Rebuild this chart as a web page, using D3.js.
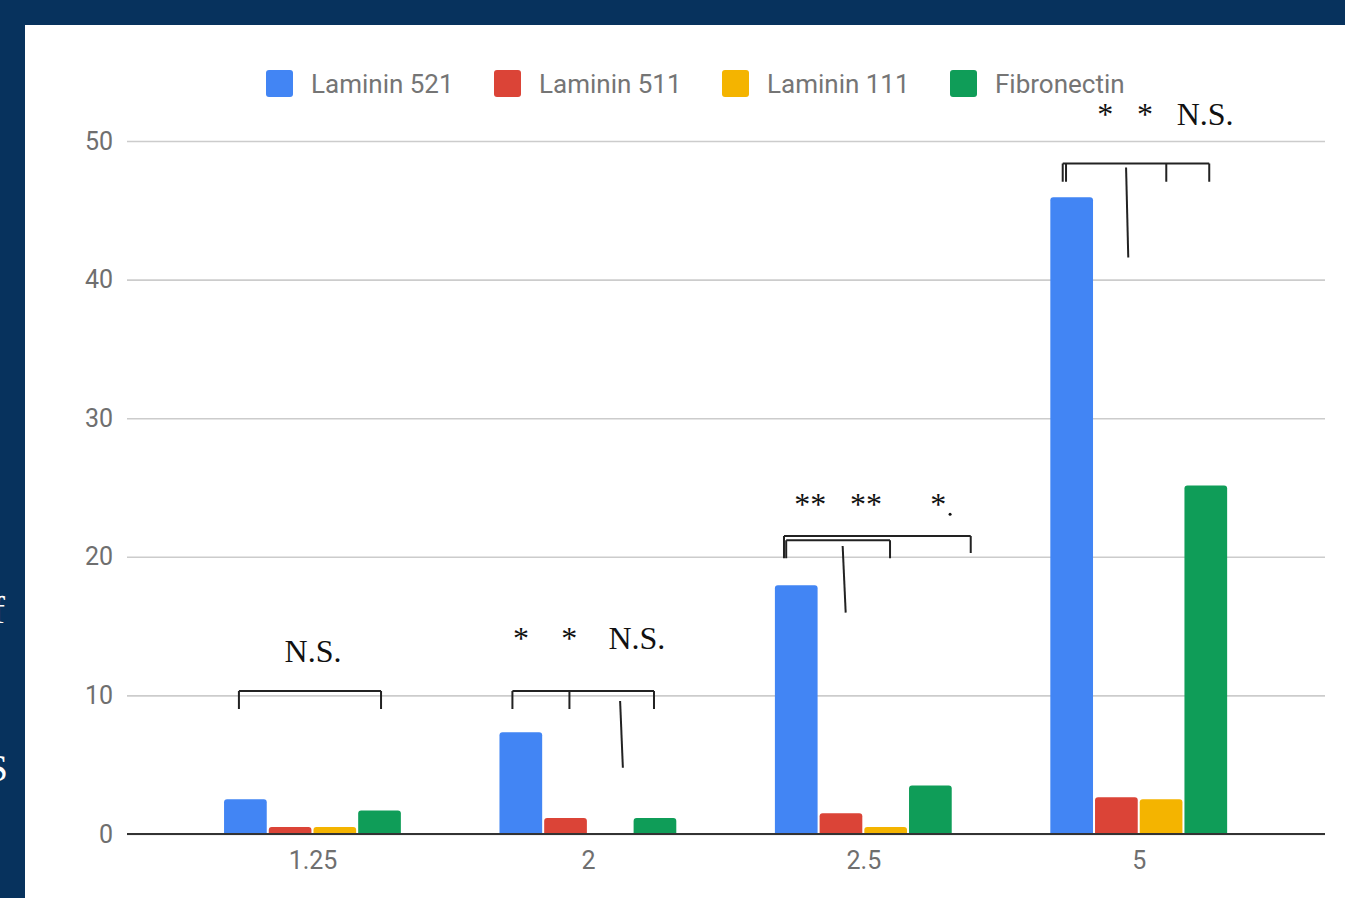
<!DOCTYPE html>
<html>
<head>
<meta charset="utf-8">
<script src="https://cdn.jsdelivr.net/npm/d3@7"></script>
<style>
  body { margin: 0; background: #07325d; overflow: hidden; }
  svg { display: block; }
</style>
</head>
<body>
<svg id="chart"></svg>
<script>
// data
const categories = ['1.25', '2', '2.5', '5'];
const seriesNames = ['Laminin 521', 'Laminin 511', 'Laminin 111', 'Fibronectin'];
const seriesColors = ['#4285f4', '#db4437', '#f4b400', '#0f9d58'];
const laminin521 = [2.5, 7.35, 17.95, 45.95];
const laminin511 = [0.5, 1.15, 1.5, 2.65];
const laminin111 = [0.5, 0, 0.5, 2.5];
const fibronectin = [1.7, 1.15, 3.5, 25.15];
const yTicks = [0, 10, 20, 30, 40, 50];

// significance annotations, x in group units (0..4), y in data units
const brackets = [
  {top: 10.32, legs: [[0.231, 9.02], [0.747, 9.02]]},
  {top: 10.32, legs: [[1.224, 9.02], [1.431, 9.02], [1.738, 9.02]]},
  {top: 21.5, legs: [[2.210, 19.9], [2.888, 20.27]]},
  {top: 21.2, legs: [[2.218, 19.9], [2.595, 19.9]]},
  {top: 48.38, legs: [[3.222, 47.06], [3.234, 47.06], [3.598, 47.06], [3.754, 47.06]]}
];
const strokes = [
  [1.615, 9.6, 1.625, 4.78],
  [2.423, 20.78, 2.434, 15.97],
  [3.452, 48.09, 3.460, 41.6]
];
const sigLabels = [
  {x: 0.5, y: 12.41, text: 'N.S.'},
  {x: 1.255, y: 13.35, text: '*'},
  {x: 1.43, y: 13.35, text: '*'},
  {x: 1.676, y: 13.35, text: 'N.S.'},
  {x: 2.305, y: 23.0, text: '**'},
  {x: 2.508, y: 23.0, text: '**'},
  {x: 2.77, y: 23.0, text: '*'},
  {x: 3.376, y: 51.15, text: '*'},
  {x: 3.521, y: 51.15, text: '*'},
  {x: 3.739, y: 51.15, text: 'N.S.'}
];

class GroupedBarChart {
  constructor(_config) {
    this.config = {
      parentElement: _config.parentElement,
      containerWidth: _config.containerWidth || 1345,
      containerHeight: _config.containerHeight || 898,
      grid: {left: 127, right: 1325, top: 141, bottom: 834}
    };
    this.initVis();
  }

  initVis() {
    let vis = this;
    vis.svg = d3.select(vis.config.parentElement)
      .attr('width', vis.config.containerWidth)
      .attr('height', vis.config.containerHeight);

    // navy frame + white panel
    vis.svg.append('rect')
      .attr('width', vis.config.containerWidth)
      .attr('height', vis.config.containerHeight)
      .attr('fill', '#07325d');
    vis.svg.append('rect')
      .attr('x', 25).attr('y', 25)
      .attr('width', vis.config.containerWidth - 25)
      .attr('height', vis.config.containerHeight - 25)
      .attr('fill', '#ffffff');

    // cut-off slide text on the left edge
    vis.svg.append('text')
      .attr('x', 8).attr('y', 781)
      .attr('text-anchor', 'end')
      .style('font-family', 'Liberation Serif, serif')
      .style('font-size', '38px')
      .style('fill', '#ffffff')
      .text('S');
    vis.svg.append('text')
      .attr('x', 5).attr('y', 623)
      .attr('text-anchor', 'end')
      .style('font-family', 'Liberation Serif, serif')
      .style('font-size', '38px')
      .style('fill', '#ffffff')
      .text('f');

    vis.yScale = d3.scaleLinear()
      .domain([0, 50])
      .range([vis.config.grid.bottom, vis.config.grid.top]);

    vis.xScale = d3.scaleBand()
      .domain(categories)
      .range([175.3, 1277])
      .padding(0);

    let bw = vis.xScale.bandwidth();
    vis.xInner = d3.scaleBand()
      .domain(seriesNames)
      .range([bw * 0.177, bw * 0.819])
      .paddingInner(0.045);

    vis.xIndex = d3.scaleLinear()
      .domain([0, categories.length])
      .range(vis.xScale.range());

    vis.renderVis();
  }

  renderVis() {
    let vis = this;
    const g = vis.config.grid;

    // gridlines
    const yAxis = d3.axisLeft(vis.yScale)
      .tickValues(yTicks)
      .tickSize(-(g.right - g.left))
      .tickPadding(14);
    const yg = vis.svg.append('g')
      .attr('class', 'y-axis')
      .attr('transform', `translate(${g.left}, 0)`)
      .call(yAxis);
    yg.select('.domain').remove();
    yg.selectAll('line')
      .attr('stroke', '#cccccc')
      .attr('stroke-width', 1.6);
    yg.selectAll('text')
      .style('font-family', 'Roboto')
      .style('font-size', '25px')
      .style('fill', '#6f6f6f');

    // bars
    const seriesValues = [laminin521, laminin511, laminin111, fibronectin];
    const rows = [];
    categories.forEach((c, i) => {
      seriesNames.forEach((s, j) => {
        rows.push({cat: c, series: s, color: seriesColors[j], value: seriesValues[j][i]});
      });
    });

    const r = 3;
    vis.svg.append('g').selectAll('path')
      .data(rows.filter(d => d.value > 0))
      .join('path')
      .attr('fill', d => d.color)
      .attr('d', d => {
        const x0 = vis.xScale(d.cat) + vis.xInner(d.series);
        const x1 = x0 + vis.xInner.bandwidth();
        const y0 = vis.yScale(0);
        const y1 = vis.yScale(d.value);
        const rr = Math.min(r, (y0 - y1) / 2);
        return `M${x0},${y0} L${x0},${y1 + rr} Q${x0},${y1} ${x0 + rr},${y1} ` +
          `L${x1 - rr},${y1} Q${x1},${y1} ${x1},${y1 + rr} L${x1},${y0} Z`;
      });

    // baseline
    vis.svg.append('line')
      .attr('x1', g.left).attr('x2', g.right)
      .attr('y1', vis.yScale(0)).attr('y2', vis.yScale(0))
      .attr('stroke', '#333333')
      .attr('stroke-width', 2.2);

    // x labels
    const xg = vis.svg.append('g')
      .attr('class', 'x-axis')
      .attr('transform', `translate(0, ${vis.yScale(0)})`)
      .call(d3.axisBottom(vis.xScale).tickSize(0).tickPadding(17));
    xg.select('.domain').remove();
    xg.selectAll('text')
      .style('font-family', 'Roboto')
      .style('font-size', '25px')
      .style('fill', '#6f6f6f');

    // legend
    const legend = vis.svg.append('g').selectAll('g')
      .data(seriesNames)
      .join('g')
      .attr('transform', (d, i) => `translate(${266 + i * 228}, 70)`);
    legend.append('rect')
      .attr('width', 27).attr('height', 27).attr('rx', 3)
      .attr('fill', (d, i) => seriesColors[i]);
    legend.append('text')
      .attr('x', 45).attr('y', 23)
      .style('font-family', 'Roboto')
      .style('font-size', '26px')
      .style('fill', '#757575')
      .text(d => d);

    // significance brackets
    const ann = vis.svg.append('g').attr('class', 'annotations');
    ann.selectAll('path.bracket')
      .data(brackets)
      .join('path')
      .attr('class', 'bracket')
      .attr('fill', 'none')
      .attr('stroke', '#222222')
      .attr('stroke-width', 2)
      .attr('stroke-linejoin', 'round')
      .attr('d', b => {
        const xs = b.legs.map(l => vis.xIndex(l[0]));
        const yt = vis.yScale(b.top);
        let p = `M${d3.min(xs)},${yt} L${d3.max(xs)},${yt}`;
        b.legs.forEach(l => {
          const x = vis.xIndex(l[0]);
          p += ` M${x},${yt} L${x},${vis.yScale(l[1])}`;
        });
        return p;
      });

    ann.selectAll('line.stroke')
      .data(strokes)
      .join('line')
      .attr('class', 'stroke')
      .attr('x1', d => vis.xIndex(d[0]))
      .attr('y1', d => vis.yScale(d[1]))
      .attr('x2', d => vis.xIndex(d[2]))
      .attr('y2', d => vis.yScale(d[3]))
      .attr('stroke', '#222222')
      .attr('stroke-width', 2);

    ann.selectAll('text')
      .data(sigLabels)
      .join('text')
      .attr('x', d => vis.xIndex(d.x))
      .attr('y', d => vis.yScale(d.y))
      .attr('text-anchor', 'middle')
      .style('font-family', 'Liberation Serif, serif')
      .style('font-size', '32px')
      .style('fill', '#111111')
      .text(d => d.text);

    // small stray dot next to the last asterisk of 2.5
    ann.append('circle')
      .attr('cx', vis.xIndex(2.813))
      .attr('cy', vis.yScale(23.0) - 1)
      .attr('r', 1.5)
      .attr('fill', '#111111');
  }
}

new GroupedBarChart({parentElement: '#chart'});
</script>
</body>
</html>
